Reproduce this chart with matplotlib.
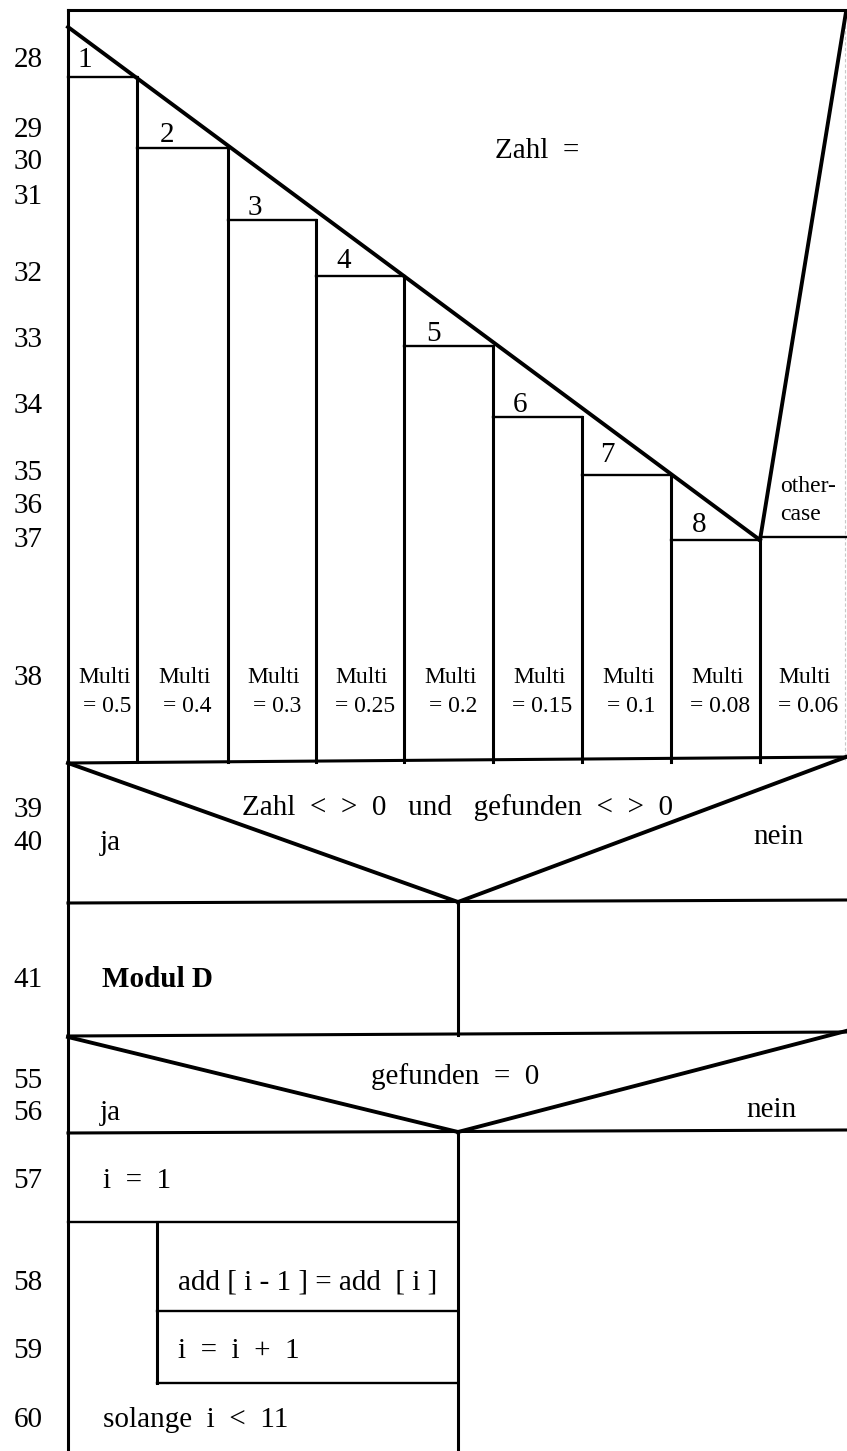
import matplotlib
matplotlib.use("Agg")
import matplotlib.pyplot as plt

# ---------------- data (texts of the Nassi-Shneiderman diagram) ----------------
line_numbers = ["28", "29", "30", "31", "32", "33", "34", "35", "36", "37", "38",
                "39", "40", "41", "55", "56", "57", "58", "59", "60"]
case_labels = ["1", "2", "3", "4", "5", "6", "7", "8"]
multi_values = ["0.5", "0.4", "0.3", "0.25", "0.2", "0.15", "0.1", "0.08", "0.06"]
case_selector = "Zahl  ="
othercase_text = ["other-", "case"]
condition1 = "Zahl  <  >  0   und   gefunden  <  >  0"
condition2 = "gefunden  =  0"
yes_text = "ja"
no_text = "nein"
module_text = "Modul D"
stmt_init = "i  =  1"
stmt_shift = "add [ i - 1 ] = add  [ i ]"
stmt_inc = "i  =  i  +  1"
stmt_until = "solange  i  <  11"

# ---------------- layout (pixel coordinates of the drawing) ----------------
W, H = 847, 1451
line_number_base = [67, 137, 169, 204, 281, 347, 413, 480, 513, 547, 685,
                    817, 850, 987, 1088, 1120, 1188, 1290, 1358, 1427]
col_x = [68, 137, 228, 316, 404, 493, 582, 671, 760, 846]
step_y = [77, 148, 220, 276, 346, 417, 475, 540, 537]
case_label_x = [77, 160, 248, 336, 426, 513, 600, 692]
case_label_base = [67, 142, 215, 268, 341, 412, 462, 532]

FONT = ["Liberation Serif", "DejaVu Serif"]
LW_B = 2.2     # borders / verticals
LW_D = 2.8     # diagonals
LW_T = 1.7     # thin inner lines

fig = plt.figure(figsize=(W / 100, H / 100), dpi=100)
ax = fig.add_axes([0, 0, 1, 1])
ax.set_xlim(0, W)
ax.set_ylim(H, 0)
ax.axis("off")


def seg(x0, y0, x1, y1, lw, color="black", ls="-"):
    ax.plot([x0, x1], [y0, y1], color=color, lw=lw, ls=ls,
            solid_capstyle="projecting")


def txt(x, y, s, size, ha="left", weight="normal"):
    ax.text(x, y, s, fontsize=size, ha=ha, va="baseline", family=FONT,
            weight=weight, color="black")


# ---------------- outer frame ----------------
seg(68, 10, 846, 10, LW_B)                 # top
seg(68, 10, 68, H, LW_B)                   # left
seg(845, 14, 845, 760, 0.8, color="#c8c8c8", ls=(0, (3, 2)))  # faint right edge

# ---------------- case block ----------------
seg(68, 27, col_x[8], step_y[7], LW_D)     # case diagonal
seg(col_x[8], step_y[7], 846, 12, LW_D)    # othercase diagonal
for i in range(9):
    seg(col_x[i], step_y[i], col_x[i + 1], step_y[i], LW_T)
for i in range(1, 9):
    seg(col_x[i], step_y[i - 1], col_x[i], 762, LW_B)

txt(495, 158, case_selector, 21)
for lab, x, yb in zip(case_labels, case_label_x, case_label_base):
    txt(x, yb, lab, 21)
txt(780, 492, othercase_text[0], 17)
txt(780, 520, othercase_text[1], 17)
for i, v in enumerate(multi_values):
    cx = (col_x[i] + col_x[i + 1]) / 2 + 2
    txt(cx, 683, "Multi", 17, ha="center")
    txt(cx + 3, 712, "= " + v, 17, ha="center")

# ---------------- decision 1 ----------------
seg(68, 763, 846, 757, LW_B)
seg(68, 763, 458, 902, LW_D)
seg(458, 902, 846, 757, LW_D)
seg(68, 903, 846, 900, LW_B)
seg(458, 902, 458, 1035, LW_B)
txt(457, 815, condition1, 21, ha="center")
txt(100, 850, yes_text, 21)
txt(753, 844, no_text, 21)
txt(102, 987, module_text, 21, weight="bold")
seg(68, 1036, 846, 1032, LW_B)

# ---------------- decision 2 ----------------
seg(68, 1037, 458, 1132, LW_D)
seg(458, 1132, 846, 1031, LW_D)
seg(68, 1133, 846, 1130, LW_B)
seg(458, 1132, 458, H, LW_B)
txt(455, 1084, condition2, 21, ha="center")
txt(100, 1120, yes_text, 21)
txt(746, 1117, no_text, 21)

# ---------------- loop ----------------
txt(103, 1188, stmt_init, 21)
seg(68, 1222, 458, 1222, LW_T)
seg(157, 1222, 157, 1383, LW_B)
seg(157, 1311, 458, 1311, LW_T)
seg(157, 1383, 458, 1383, LW_T)
txt(178, 1290, stmt_shift, 21)
txt(178, 1358, stmt_inc, 21)
txt(103, 1427, stmt_until, 21)

# ---------------- line numbers ----------------
for lab, yb in zip(line_numbers, line_number_base):
    txt(28, yb, lab, 21, ha="center")

fig.savefig("out.png", dpi=100)
